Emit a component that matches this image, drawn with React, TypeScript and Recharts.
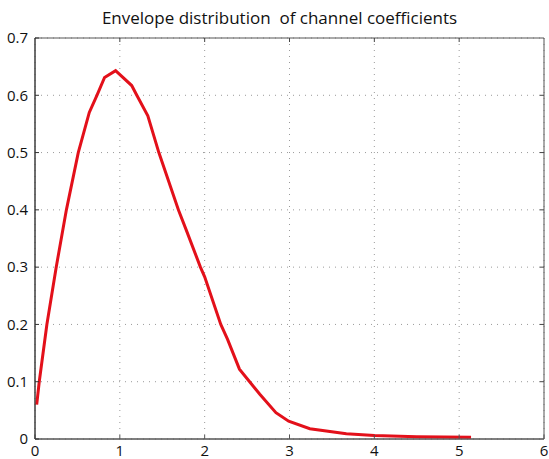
import React from 'react';
import { LineChart, Line, XAxis, YAxis, CartesianGrid, ReferenceArea, ReferenceLine } from 'recharts';

const envelopeX: number[] = [0.02, 0.05, 0.14, 0.25, 0.37, 0.51, 0.64, 0.73, 0.82, 0.95, 1.14, 1.2, 1.33, 1.46, 1.69, 1.78, 1.95, 2.0, 2.19, 2.27, 2.41, 2.53, 2.65, 2.84, 2.99, 3.24, 3.67, 4.0, 4.5, 5.14];
const envelopePdf: number[] = [0.06, 0.1, 0.2, 0.3, 0.4, 0.5, 0.57, 0.6, 0.631, 0.643, 0.617, 0.6, 0.564, 0.5, 0.4, 0.366, 0.3, 0.283, 0.2, 0.174, 0.122, 0.1, 0.078, 0.046, 0.031, 0.018, 0.009, 0.006, 0.004, 0.003];
const xTicks: number[] = [0, 1, 2, 3, 4, 5, 6];
const yTicks: number[] = [0, 0.1, 0.2, 0.3, 0.4, 0.5, 0.6, 0.7];
const title = 'Envelope distribution\u00a0 of channel coefficients';

const data = envelopeX.map((x, i) => ({ x, y: envelopePdf[i] }));

const X_MIN = xTicks[0];
const X_MAX = xTicks[xTicks.length - 1];
const Y_MIN = yTicks[0];
const Y_MAX = yTicks[yTicks.length - 1];
const X_TICK_LEN = (X_MAX - X_MIN) * 0.008;
const Y_TICK_LEN = (Y_MAX - Y_MIN) * 0.01;

const FONT = '"Open Sans", "Noto Sans", sans-serif';

export default function App() {
  return (
    <div style={{ position: 'absolute', left: 0, top: 0, width: 549, height: 459, background: '#fff' }}>
      <div
        style={{
          position: 'absolute',
          left: 25,
          width: 509,
          top: 6,
          textAlign: 'center',
          fontFamily: FONT,
          fontSize: 17,
          lineHeight: '24px',
          color: '#111',
          whiteSpace: 'pre',
        }}
      >
        {title}
      </div>
      <LineChart width={549} height={459} data={data} margin={{ top: 38, right: 5, bottom: 0, left: 0 }}>
        <CartesianGrid stroke="#9a9a9a" strokeDasharray="1 5" />
        <ReferenceArea x1={X_MIN} x2={X_MAX} y1={Y_MIN} y2={Y_MAX} fill="none" stroke="#555" strokeWidth={1} />
        {xTicks.slice(1, -1).map((t) => (
          <ReferenceLine
            key={'tx' + t}
            segment={[{ x: t, y: Y_MAX }, { x: t, y: Y_MAX - Y_TICK_LEN }]}
            stroke="#444"
          />
        ))}
        {yTicks.slice(1, -1).map((t) => (
          <ReferenceLine
            key={'ty' + t}
            segment={[{ x: X_MAX, y: t }, { x: X_MAX - X_TICK_LEN, y: t }]}
            stroke="#444"
          />
        ))}
        <XAxis
          dataKey="x"
          type="number"
          domain={[X_MIN, X_MAX]}
          ticks={xTicks}
          interval={0}
          height={20}
          stroke="#555"
          tickSize={-4}
          tickMargin={10}
          tick={{ fill: '#111', fontSize: 15, fontFamily: FONT }}
        />
        <YAxis
          type="number"
          domain={[Y_MIN, Y_MAX]}
          ticks={yTicks}
          interval={0}
          width={35}
          stroke="#333"
          tickSize={-4}
          tickMargin={11}
          tickFormatter={(v: number) => String(Math.round(v * 10) / 10)}
          tick={{ fill: '#111', fontSize: 15, fontFamily: FONT }}
        />
        <Line
          type="linear"
          dataKey="y"
          stroke="#e3101a"
          strokeWidth={3}
          dot={false}
          isAnimationActive={false}
        />
      </LineChart>
    </div>
  );
}
